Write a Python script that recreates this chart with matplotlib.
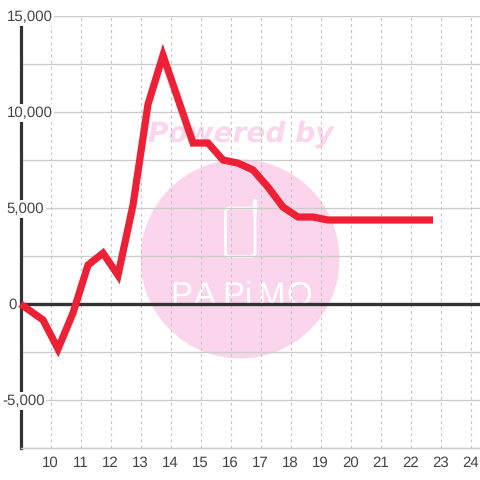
import matplotlib
matplotlib.use('Agg')
import matplotlib.pyplot as plt
from matplotlib.patches import Circle, FancyBboxPatch

hours = [9, 9.75, 10.25, 10.75, 11.25, 11.75, 12.25, 12.75, 13.25, 13.75, 14.25, 14.75, 15.25, 15.75,
         16.25, 16.75, 17.25, 17.75, 18.25, 18.75, 19.25, 19.75, 20.25, 20.75, 21.25, 21.75, 22.25, 22.75]
values = [0, -830, -2340, -470, 2030, 2650, 1500, 5150, 10400, 12950, 10680, 8385, 8385, 7500,
          7340, 6980, 6090, 5050, 4530, 4530, 4375, 4375, 4375, 4375, 4375, 4375, 4375, 4375]

x_ticks = list(range(10, 25))
y_grid = [-7500, -5000, -2500, 0, 2500, 5000, 7500, 10000, 12500, 15000]
y_ticks = [15000, 10000, 5000, 0, -5000]
y_labels = ['15,000', '10,000', '5,000', '0', '-5,000']
label_left = [6.5, 6.5, 6.5, 8, 2]
logo_letters = ['P', 'A', 'P', 'i', 'M', 'O']
logo_centers = [181, 205, 233, 248, 271, 299]

W = 480
plt.rcParams['font.family'] = ['Liberation Sans', 'DejaVu Sans']
plt.rcParams['text.hinting'] = 'no_hinting'
plt.rcParams['text.hinting_factor'] = 1
fig = plt.figure(figsize=(4.8, 4.8), dpi=100)

# watermark goes in its own axes, pixel coordinates
bg = fig.add_axes([0, 0, 1, 1], zorder=0)
bg.set_xlim(0, W)
bg.set_ylim(W, 0)
bg.axis('off')
pink = '#fbd5ec'
bg.add_patch(Circle((240, 259), 99.5, color=pink, lw=0))
bg.text(241, 134, 'Powered by', color=pink, fontsize=20.4, fontweight='bold', fontstyle='italic',
        family='DejaVu Sans', ha='center', va='center')
bg.add_patch(FancyBboxPatch((225.5, 208), 29.5, 48.5, boxstyle='round,pad=0,rounding_size=4',
                            fc='none', ec='white', lw=2))
bg.plot([254.5, 254.5], [201, 212], color='white', lw=3, solid_capstyle='round')
for letter, cx in zip(logo_letters, logo_centers):
    bg.text(cx, 305, letter, color='white', fontsize=24, ha='center', va='baseline')

ax = fig.add_axes([20.5 / W, (W - 448) / W, (W - 20.5) / W, 432 / W], zorder=1)
ax.patch.set_alpha(0)
ax.set_xlim(9, 9 + (W - 20.5) / 30)
ax.set_ylim(-7500, 15000)

for s in ['top', 'right']:
    ax.spines[s].set_visible(False)
ax.spines['left'].set_color('#333333')
ax.spines['left'].set_linewidth(2.3)
ax.spines['bottom'].set_color('#cccccc')
ax.spines['bottom'].set_linewidth(1)

ax.set_xticks(x_ticks)
ax.set_yticks(y_grid)
ax.set_yticklabels([])
ax.tick_params(length=0)
ax.tick_params(axis='x', labelsize=11, labelcolor='#444444', pad=6)
ax.grid(axis='y', color='#cccccc', lw=1)
ax.grid(axis='x', color='#c4c4c4', lw=0.8, ls=(0, (2.5, 3)))
ax.set_axisbelow(True)

ax.axhline(0, color='#333333', lw=2.4, zorder=2)
ax.plot(hours, values, color='#ee2035', lw=5.2, solid_joinstyle='miter', solid_capstyle='butt',
        zorder=3, clip_on=False)

for val, lab, left in zip(y_ticks, y_labels, label_left):
    ax.annotate(lab, xy=(left, 0), xycoords='figure pixels', fontsize=11, color='#444444',
                ha='left', va='center', zorder=5, annotation_clip=False,
                xytext=(left, W - 448 + (val + 7500) / 22500 * 432 - 1), textcoords='figure pixels',
                bbox=dict(fc='white', ec='none', pad=1.2))

fig.savefig('out.png', dpi=100)
